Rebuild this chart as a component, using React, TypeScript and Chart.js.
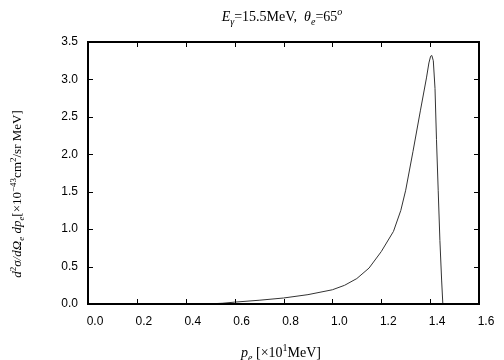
import React, { useEffect, useRef } from "react";
import { Chart, registerables } from "chart.js";

Chart.register(...registerables);

const pe = [0.485, 0.55, 0.6, 0.7, 0.8, 0.9, 1.0, 1.05, 1.1, 1.15, 1.2, 1.25, 1.28, 1.3, 1.33, 1.36, 1.385, 1.395, 1.402, 1.407, 1.413, 1.42, 1.426, 1.433, 1.44, 1.447, 1.452];
const sigma = [0, 0.01, 0.025, 0.05, 0.08, 0.125, 0.19, 0.25, 0.34, 0.48, 0.7, 0.97, 1.25, 1.52, 2.04, 2.58, 3.02, 3.22, 3.31, 3.32, 3.25, 2.88, 2.2, 1.52, 0.85, 0.32, 0];
const xTicks = [0, 0.2, 0.4, 0.6, 0.8, 1.0, 1.2, 1.4, 1.6];
const yTicks = [0, 0.5, 1.0, 1.5, 2.0, 2.5, 3.0, 3.5];

type Seg = { t: string; i?: boolean; s?: "sub" | "sup" };

const titleSegs: Seg[] = [
  { t: "E", i: true }, { t: "γ", i: true, s: "sub" }, { t: "=15.5MeV,  " },
  { t: "θ", i: true }, { t: "e", i: true, s: "sub" }, { t: "=65" }, { t: "o", i: true, s: "sup" },
];
const yLabelSegs: Seg[] = [
  { t: "d", i: true }, { t: "2", s: "sup" }, { t: "σ/dΩ", i: true }, { t: "e", i: true, s: "sub" },
  { t: " dp", i: true }, { t: "e", i: true, s: "sub" }, { t: "[×10" }, { t: "−43", s: "sup" },
  { t: "cm" }, { t: "2", s: "sup" }, { t: "/sr MeV]" },
];
const xLabelSegs: Seg[] = [
  { t: "p", i: true }, { t: "e", i: true, s: "sub" }, { t: " [×10" }, { t: "1", s: "sup" }, { t: "MeV]" },
];

function fontFor(seg: Seg, fs: number) {
  const size = seg.s ? Math.round(fs * 0.7) : fs;
  return `${seg.i ? "italic " : ""}${size}px "Liberation Serif", serif`;
}
function drawRich(ctx: CanvasRenderingContext2D, segs: Seg[], cx: number, y: number, fs: number) {
  let w = 0;
  for (const s of segs) { ctx.font = fontFor(s, fs); w += ctx.measureText(s.t).width; }
  let x = cx - w / 2;
  ctx.textBaseline = "alphabetic";
  ctx.textAlign = "left";
  for (const s of segs) {
    ctx.font = fontFor(s, fs);
    const dy = s.s === "sub" ? fs * 0.25 : s.s === "sup" ? -fs * 0.4 : 0;
    ctx.fillText(s.t, x, y + dy);
    x += ctx.measureText(s.t).width;
  }
}

const decor = {
  id: "decor",
  afterDraw(chart: any) {
    const { ctx, chartArea: a, scales } = chart;
    ctx.save();
    ctx.strokeStyle = "#000";
    ctx.lineWidth = 1;
    const tl = 5;
    ctx.beginPath();
    for (const v of xTicks) {
      const px = Math.round(scales.x.getPixelForValue(v)) + 0.5;
      ctx.moveTo(px, a.bottom); ctx.lineTo(px, a.bottom - tl);
      ctx.moveTo(px, a.top); ctx.lineTo(px, a.top + tl);
    }
    for (const v of yTicks) {
      const py = Math.round(scales.y.getPixelForValue(v)) + 0.5;
      ctx.moveTo(a.left, py); ctx.lineTo(a.left + tl, py);
      ctx.moveTo(a.right, py); ctx.lineTo(a.right - tl, py);
    }
    ctx.stroke();
    ctx.lineWidth = 2;
    ctx.strokeRect(a.left, a.top, a.right - a.left, a.bottom - a.top);
    ctx.fillStyle = "#000";
    drawRich(ctx, titleSegs, 282, 21, 14);
    drawRich(ctx, xLabelSegs, 281, 357, 14);
    ctx.save();
    ctx.translate(21, 194);
    ctx.rotate(-Math.PI / 2);
    drawRich(ctx, yLabelSegs, 0, 0, 13);
    ctx.restore();
    ctx.restore();
  },
};

export default function App() {
  const ref = useRef<HTMLCanvasElement>(null);
  useEffect(() => {
    const chart = new Chart(ref.current!, {
      type: "line",
      data: {
        datasets: [{
          data: pe.map((x, i) => ({ x, y: sigma[i] })),
          borderColor: "#333",
          borderWidth: 1,
          pointRadius: 0,
          tension: 0,
          fill: false,
        }],
      },
      options: {
        responsive: false,
        animation: false,
        layout: { padding: { left: 0, right: 25, top: 42, bottom: 0 } },
        plugins: { legend: { display: false }, tooltip: { enabled: false } },
        scales: {
          x: {
            type: "linear", min: 0, max: 1.6,
            afterFit: (s: any) => { s.height = 56; },
            grid: { display: false, drawTicks: false },
            border: { display: false },
            ticks: {
              stepSize: 0.2, padding: 10, color: "#000", labelOffset: 7,
              font: { family: '"Liberation Sans", Arial, sans-serif', size: 12 },
              callback: (v: any) => Number(v).toFixed(1),
            },
          },
          y: {
            min: 0, max: 3.5,
            afterFit: (s: any) => { s.width = 88; },
            grid: { display: false, drawTicks: false },
            border: { display: false },
            ticks: {
              stepSize: 0.5, padding: 10, color: "#000",
              font: { family: '"Liberation Sans", Arial, sans-serif', size: 12 },
              callback: (v: any) => Number(v).toFixed(1),
            },
          },
        },
      },
      plugins: [decor],
    });
    return () => chart.destroy();
  }, []);
  return (
    <div style={{ position: "absolute", left: 0, top: 0, width: 504, height: 360, background: "#fff" }}>
      <canvas ref={ref} width={504} height={360} />
    </div>
  );
}
